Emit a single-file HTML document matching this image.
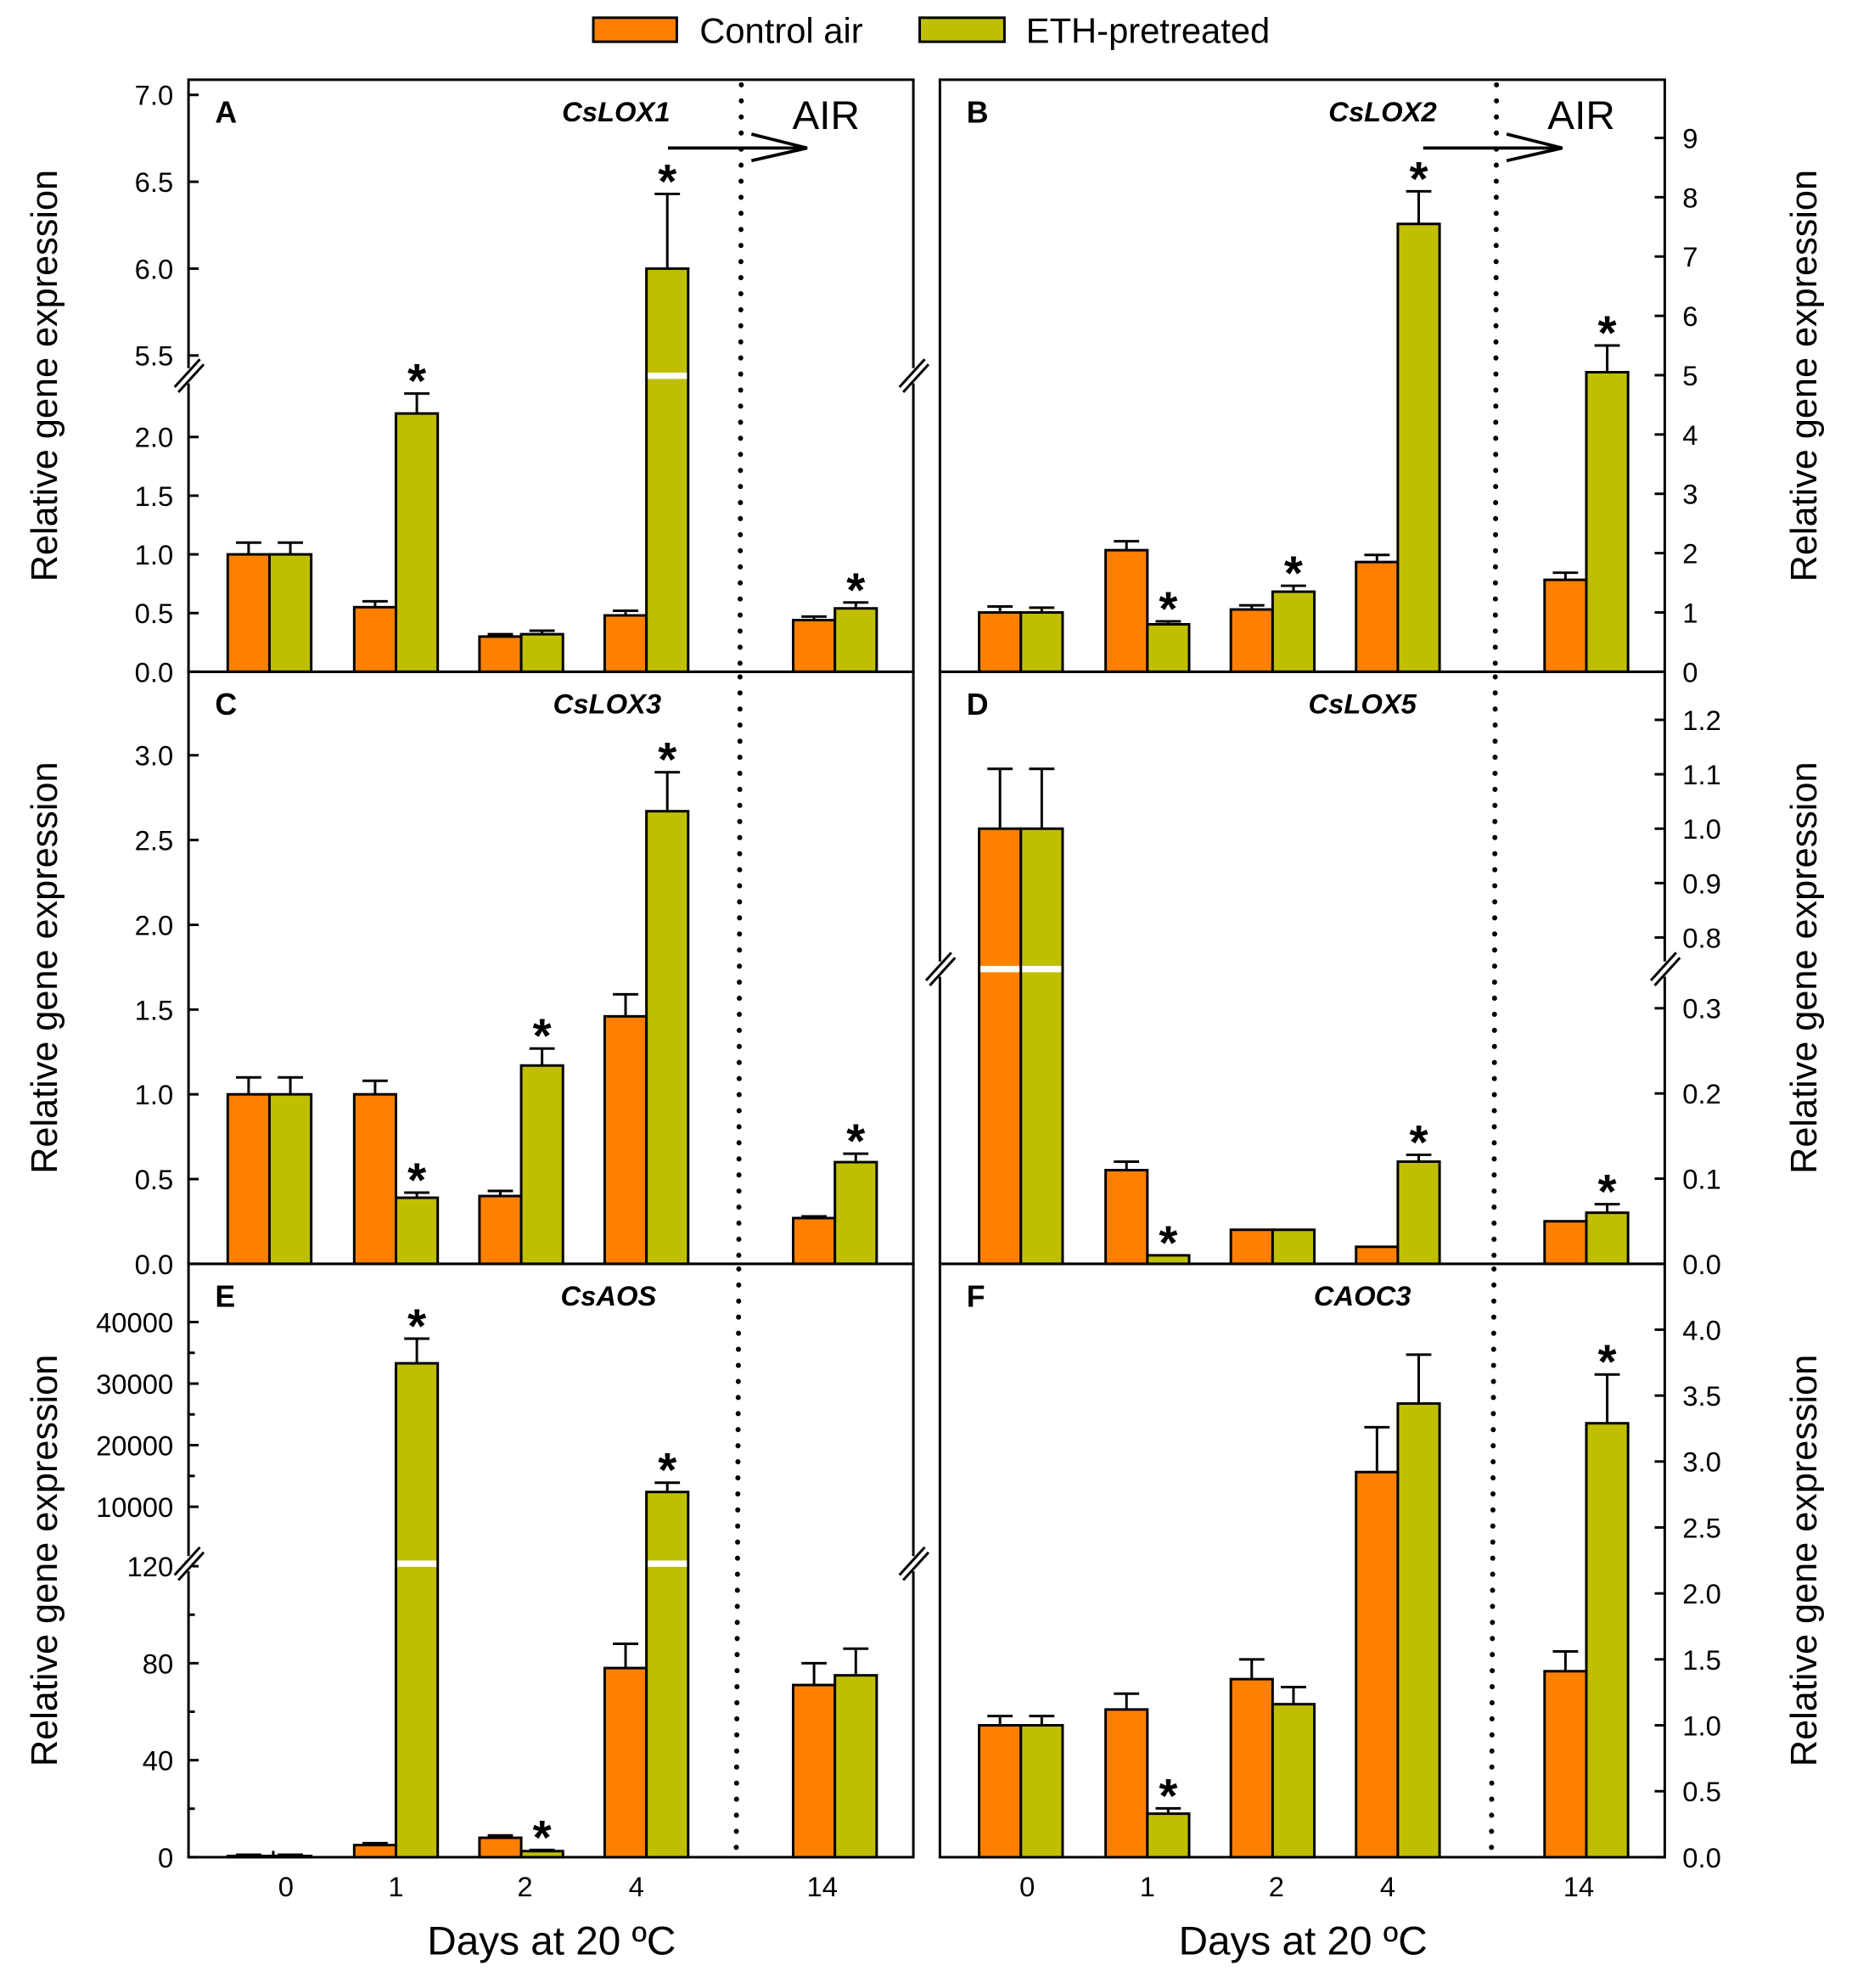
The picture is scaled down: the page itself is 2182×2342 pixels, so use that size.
<!DOCTYPE html>
<html><head><meta charset="utf-8"><style>
html,body{margin:0;padding:0;background:#fff}
svg{display:block}
text{font-family:"Liberation Sans",sans-serif;fill:#000}
</style></head><body>
<svg id="fig" width="2182" height="2342" viewBox="0 0 1464 1571.4" xmlns="http://www.w3.org/2000/svg">
<g>
<rect x="469" y="14" width="66" height="19" fill="#FF8000" stroke="#000" stroke-width="2"/>
<text x="553" y="34" font-size="28">Control air</text>
<rect x="727" y="14" width="67" height="19" fill="#BFBF00" stroke="#000" stroke-width="2"/>
<text x="811" y="34" font-size="28">ETH-pretreated</text>
</g>
<text x="436" y="1545" font-size="32" text-anchor="middle">Days at 20 ºC</text>
<text x="1030" y="1545" font-size="32" text-anchor="middle">Days at 20 ºC</text>
</svg>
<script>
const days = ["0","1","2","4","14"];
const ctrlA = [1.0,0.55,0.3,0.48,0.44], ethA = [1.0,2.2,0.32,6.0,0.54];
const ctrlAErr = [0.1,0.05,0.02,0.04,0.03], ethAErr = [0.1,0.17,0.03,0.43,0.05];
const ctrlB = [1.0,2.05,1.05,1.85,1.55], ethB = [1.0,0.8,1.35,7.55,5.05];
const ctrlBErr = [0.1,0.15,0.07,0.12,0.12], ethBErr = [0.08,0.05,0.1,0.55,0.45];
const ctrlC = [1.0,1.0,0.4,1.46,0.27], ethC = [1.0,0.39,1.17,2.67,0.6];
const ctrlCErr = [0.1,0.08,0.03,0.13,0.01], ethCErr = [0.1,0.03,0.1,0.23,0.05];
const ctrlD = [1.0,0.11,0.04,0.02,0.05], ethD = [1.0,0.01,0.04,0.12,0.06];
const ctrlDErr = [0.11,0.01,0,0,0], ethDErr = [0.11,0,0,0.008,0.01];
const ctrlE = [0.5,5,8,78,71], ethE = [0.5,33300,2.5,12400,75];
const ctrlEErr = [0.5,0.8,1,10,9], ethEErr = [0.5,4000,0.5,1500,11];
const ctrlF = [1.0,1.12,1.35,2.92,1.41], ethF = [1.0,0.33,1.16,3.44,3.29];
const ctrlFErr = [0.07,0.12,0.15,0.34,0.15], ethFErr = [0.07,0.04,0.13,0.37,0.37];
const starsA=[0,1,0,1,1], starsB=[0,1,1,1,1], starsC=[0,1,1,1,1], starsD=[0,1,0,1,1], starsE=[0,1,1,1,0], starsF=[0,1,0,0,1];
const ticksA=[0,0.5,1.0,1.5,2.0,5.5,6.0,6.5,7.0], ticksB=[0,1,2,3,4,5,6,7,8,9];
const ticksC=[0,0.5,1.0,1.5,2.0,2.5,3.0], ticksD=[0,0.1,0.2,0.3,0.8,0.9,1.0,1.1,1.2];
const ticksE=[0,40,80,120,10000,20000,30000,40000], ticksF=[0,0.5,1.0,1.5,2.0,2.5,3.0,3.5,4.0];

const NS="http://www.w3.org/2000/svg";
const svg=document.getElementById('fig');
function el(tag,attrs,parent){const e=document.createElementNS(NS,tag);for(const k in attrs)e.setAttribute(k,attrs[k]);(parent||svg).appendChild(e);return e;}

const panels=[
 {id:"a",letter:"A",gene:"CsLOX1",left:true,x0:149,x1:722,top:63,bot:531,ctrl:ctrlA,eth:ethA,ce:ctrlAErr,ee:ethAErr,stars:starsA,ticks:ticksA,dec:1,
  seg:[{d0:0,d1:2.5,p0:531,p1:299},{d0:5.5,d1:7.0,p0:281,p1:75}],brk:297,geneX:487,air:true,dot:[586,585]},
 {id:"b",letter:"B",gene:"CsLOX2",left:false,x0:743,x1:1316,top:63,bot:531,ctrl:ctrlB,eth:ethB,ce:ctrlBErr,ee:ethBErr,stars:starsB,ticks:ticksB,dec:0,
  seg:[{d0:0,d1:9,p0:531,p1:109}],brk:297,geneX:1093,air:true,dot:[1183,1182]},
 {id:"c",letter:"C",gene:"CsLOX3",left:true,x0:149,x1:722,top:531,bot:999,ctrl:ctrlC,eth:ethC,ce:ctrlCErr,ee:ethCErr,stars:starsC,ticks:ticksC,dec:1,
  seg:[{d0:0,d1:3,p0:999,p1:597}],geneX:480,dot:[585,584]},
 {id:"d",letter:"D",gene:"CsLOX5",left:false,x0:743,x1:1316,top:531,bot:999,ctrl:ctrlD,eth:ethD,ce:ctrlDErr,ee:ethDErr,stars:starsD,ticks:ticksD,dec:1,
  seg:[{d0:0,d1:0.346,p0:999,p1:766},{d0:0.728,d1:1.2,p0:772,p1:569}],brk:766,geneX:1077,dot:[1182,1181]},
 {id:"e",letter:"E",gene:"CsAOS",left:true,x0:149,x1:722,top:999,bot:1468,ctrl:ctrlE,eth:ethE,ce:ctrlEErr,ee:ethEErr,stars:starsE,ticks:ticksE,dec:0,
  seg:[],brk:1236,geneX:481,dot:[584,582]},
 {id:"f",letter:"F",gene:"CAOC3",left:false,x0:743,x1:1316,top:999,bot:1468,ctrl:ctrlF,eth:ethF,ce:ctrlFErr,ee:ethFErr,stars:starsF,ticks:ticksF,dec:1,
  seg:[{d0:0,d1:4,p0:1468,p1:1051}],geneX:1077,dot:[1181,1179]}
];
const groupOff=[31,131,230,329,478];
const labelOff=[77,164,266,354,501];
const BW=33;

function makeScale(p){
  return function(v){
    if(p.id==="e"){
      if(v<=120) return 1468-(v/120)*(1468-1238);
      return 1191-(v-10000)*((1191-1045)/30000);
    }
    for(let i=p.seg.length-1;i>=0;i--){const s=p.seg[i];
      if(v>=s.d0||i===0){return s.p0+(v-s.d0)/(s.d1-s.d0)*(s.p1-s.p0);}}
  };
}
panels.forEach(p=>{
  const y=makeScale(p);
  const g=el('g',{});
  
  
  const fr=el('rect',{x:p.x0,y:p.top,width:p.x1-p.x0,height:p.bot-p.top,fill:"none",stroke:"#000","stroke-width":2},g);
  
  
  const dl=el('line',{x1:p.dot[0],y1:p.top+4,x2:p.dot[1],y2:p.bot-2,stroke:"#000","stroke-width":4,"stroke-dasharray":"0.1 12.6","stroke-linecap":"round"},g);
  
  
  const ax=p.left?p.x0:p.x1, dir=p.left?1:-1;
  p.ticks.forEach(t=>{
    const ty=y(t);
    el('line',{x1:ax,y1:ty,x2:ax+dir*8,y2:ty,stroke:"#000","stroke-width":2},g);
    const lbl=el('text',{x:p.left?ax-12:ax+14,y:ty+8,"font-size":22,"text-anchor":p.left?"end":"start"},g);
    
    
    lbl.textContent=t.toFixed(p.dec);
  });
  const minors = p.id==="e"?[20,60,100,15000,25000,35000]:[];
  minors.forEach(t=>{const ty=y(t);el('line',{x1:ax,y1:ty,x2:ax+dir*5,y2:ty,stroke:"#000","stroke-width":2},g);});
  if(p.brk && p.id!=="b"){
    [p.x0,p.x1].forEach(bx=>{
      el('rect',{x:bx-3,y:p.brk-6,width:6,height:12,fill:"#fff"},g);
      el('line',{x1:bx-11,y1:p.brk+9,x2:bx+9,y2:p.brk-13,stroke:"#000","stroke-width":2},g);
      el('line',{x1:bx-8,y1:p.brk+13,x2:bx+12,y2:p.brk-9,stroke:"#000","stroke-width":2},g);
    });
  }
  days.forEach((d,i)=>{
    const cx=p.x0+groupOff[i]+BW+3;
    el('line',{x1:cx,y1:p.bot,x2:cx,y2:p.bot-5,stroke:"#000","stroke-width":2},g);
    if(p.bot===1468){
      const xl=el('text',{x:p.x0+labelOff[i]+(p.left?0:(i===0?-8:(i===4?4:0))),y:1499,"font-size":22,"text-anchor":"middle"},g);
      
      
      xl.textContent=d;
    }
  });
  days.forEach((d,i)=>{
    const gx=p.x0+groupOff[i];
    [[p.ctrl,p.ce,"#FF8000",0,"control"],[p.eth,p.ee,"#BFBF00",1,"eth"]].forEach(([vals,errs,col,k,nm])=>{
      const v=vals[i],bx=gx+k*BW,yt=y(v),bc=bx+BW/2;
      const eTop=y(v+errs[i]);
      if(errs[i]>0){
        el('line',{x1:bc,y1:yt,x2:bc,y2:eTop,stroke:"#000","stroke-width":2},g);
        el('line',{x1:bc-10,y1:eTop,x2:bc+10,y2:eTop,stroke:"#000","stroke-width":2},g);
      }
      const r=el('rect',{x:bx,y:yt,width:BW,height:p.bot-yt,fill:col,stroke:"#000","stroke-width":2},g);
      
      
      if(p.brk && p.id!=="b" && yt<p.brk){
        el('rect',{x:bx+1,y:p.brk-2.5,width:BW-2,height:5,fill:"#fff"},g);
      }
      if(k===1 && p.stars[i]){
        const s=el('text',{x:bc,y:eTop+3,"font-size":38,"font-weight":"bold","text-anchor":"middle"},g);
        
        
        s.textContent="*";
      }
    });
  });
  const L=el('text',{x:p.x0+21,y:p.top+34,"font-size":24,"font-weight":"bold"},g);
  
  
  L.textContent=p.letter;
  const G=el('text',{x:p.geneX,y:p.top+33,"font-size":22,"font-weight":"bold","font-style":"italic","text-anchor":"middle"},g);
  
  
  G.textContent=p.gene;
  if(p.air){
    const A=el('text',{x:p.dot[0]+67,y:p.top+39,"font-size":32,"text-anchor":"middle"},g);
    
    
    A.textContent="AIR";
    const ar=el('path',{d:`M${p.dot[0]-58} ${p.top+54} H${p.dot[0]+52} M${p.dot[0]+8} ${p.top+43} L${p.dot[0]+52} ${p.top+54} L${p.dot[0]+8} ${p.top+64}`,fill:"none",stroke:"#000","stroke-width":2.5},g);
    
    
  }
  const cy=(p.top+p.bot)/2;
  const tx=p.left?45:1436;
  const T=el('text',{x:tx,y:cy,"font-size":29,"text-anchor":"middle",transform:`rotate(-90 ${tx} ${cy})`},g);
  
  
  T.textContent="Relative gene expression";
});
</script>
</body></html>
